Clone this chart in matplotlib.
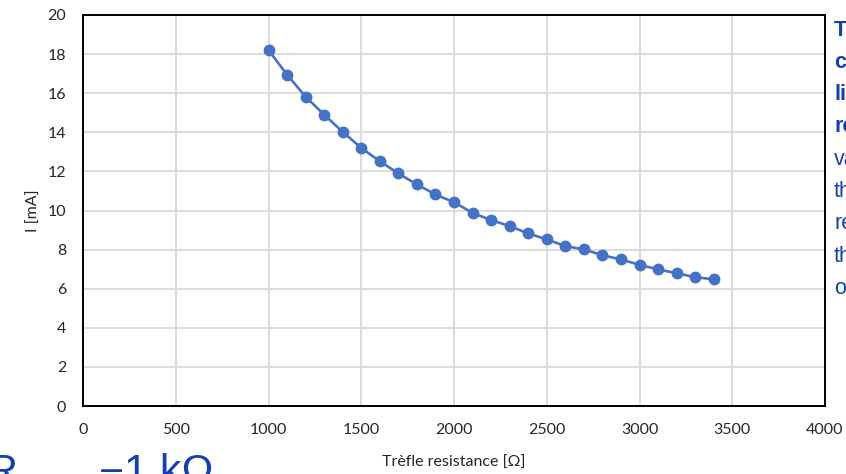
import matplotlib.pyplot as plt

# Trèfle resistance [Ohm] and measured current [mA]
resistance = [1000, 1100, 1200, 1300, 1400, 1500, 1600, 1700, 1800, 1900,
              2000, 2100, 2200, 2300, 2400, 2500, 2600, 2700, 2800, 2900,
              3000, 3100, 3200, 3300, 3400]
current = [18.2, 16.95, 15.82, 14.9, 14.02, 13.2, 12.52, 11.9, 11.33, 10.82,
           10.42, 9.88, 9.51, 9.2, 8.83, 8.52, 8.18, 8.01, 7.71, 7.5,
           7.22, 6.99, 6.79, 6.59, 6.48]

x_ticks = [0, 500, 1000, 1500, 2000, 2500, 3000, 3500, 4000]
y_ticks = [0, 2, 4, 6, 8, 10, 12, 14, 16, 18, 20]

# text on the slide, cut off by the screenshot
side_lines = ["The", "current", "limiting", "resistor", "value", "then",
              "results", "the", "operating"]
side_bold = [True, True, True, True, False, False, False, False, False]

blue_text = "#1340AE"

plt.rcParams['font.family'] = ['Lato', 'DejaVu Sans']

fig = plt.figure(figsize=(8.46, 4.74), dpi=100)
ax = fig.add_axes([83 / 846, 68 / 474, 742 / 846, 391 / 474])

ax.plot(resistance, current, color="#4472C4", linewidth=1.9,
        marker="o", markersize=7.5, zorder=3)

ax.set_xlim(0, 4000)
ax.set_ylim(0, 20)
ax.set_xticks(x_ticks)
ax.set_yticks(y_ticks)
ax.grid(True, color="#D9D9D9", linewidth=1.3)
ax.set_axisbelow(True)
ax.tick_params(length=0, labelsize=11.5, labelcolor="#262626")
ax.tick_params(axis="x", pad=12)
ax.tick_params(axis="y", pad=12)
for s in ax.spines.values():
    s.set_color("black")
    s.set_linewidth(1.4)

ax.set_xlabel("Trèfle resistance [Ω]", fontsize=11.5, color="#262626", labelpad=14)
ax.set_ylabel("I [mA]", fontsize=11.5, color="#262626", labelpad=5)

# side text
for i, (line, bold) in enumerate(zip(side_lines, side_bold)):
    fig.text(834 / 846, 1 - (30 + i * 32.3) / 474, line,
             fontsize=15.5, color=blue_text,
             fontweight="bold" if bold else "normal",
             family=["Liberation Sans", "DejaVu Sans"],
             ha="left", va="center")

# big formula at the bottom, mostly cut off
big = dict(fontsize=31, color=blue_text, family=["Liberation Sans", "DejaVu Sans"],
           va="baseline", ha="left")
fig.text(-13 / 846, -10 / 474, "R", **big)
fig.text(99 / 846, -16 / 474, "=", **big)
fig.text(124 / 846, -10 / 474, "1 kΩ", **big)

fig.savefig("out.png", dpi=100)
